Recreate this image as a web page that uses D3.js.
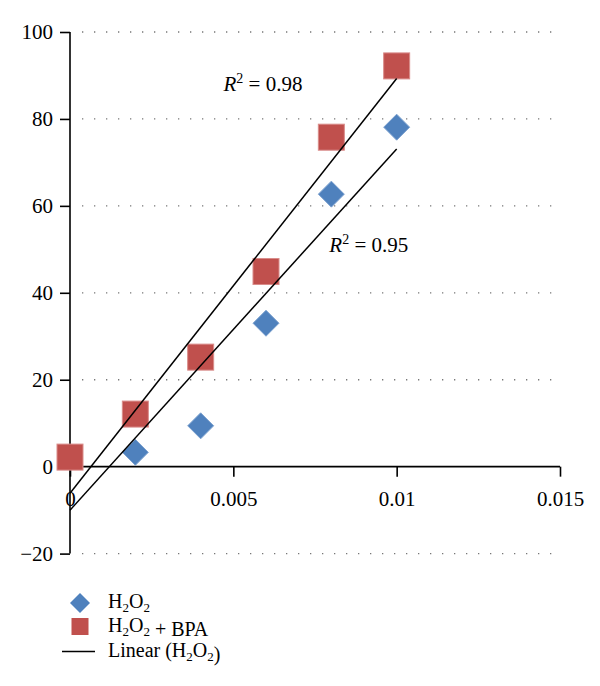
<!DOCTYPE html>
<html><head><meta charset="utf-8">
<script src="https://cdn.jsdelivr.net/npm/d3@7"></script>
<style>body{margin:0;background:#fff}svg{display:block;font-family:"Liberation Serif","DejaVu Serif",serif}</style>
</head><body><svg id="c" width="600" height="686"></svg>
<script>
const h2o2X = [0.002, 0.004, 0.006, 0.008, 0.01];
const h2o2Y = [3.3, 9.4, 33.0, 62.7, 78.1];
const bpaX = [0, 0.002, 0.004, 0.006, 0.008, 0.01];
const bpaY = [2.2, 12.1, 25.2, 44.9, 75.8, 92.2];
const fitX = [0, 0.01];
const fitBpaY = [-6.1, 89.3];
const fitH2o2Y = [-10.0, 73.1];
const xTicks = [0, 0.005, 0.01, 0.015];
const xTickLabels = ["0", "0.005", "0.01", "0.015"];
const yTicks = [-20, 0, 20, 40, 60, 80, 100];
const gridValues = [-20, 20, 40, 60, 80, 100];
const r2Labels = [{v:"0.98", x:0.00470, y:86.5}, {v:"0.95", x:0.00794, y:49.5}];

const FS = 21;
const svg = d3.select("#c");
const x = d3.scaleLinear().domain([0, 0.015]).range([70, 560]);
const y = d3.scaleLinear().domain([-20, 100]).range([553.6, 32]);

// gridlines
svg.append("g").selectAll("line").data(gridValues).join("line")
  .attr("x1", 82).attr("x2", x(0.015)).attr("y1", d => y(d)).attr("y2", d => y(d))
  .attr("stroke", "#777").attr("stroke-width", 1.3).attr("stroke-dasharray", "1.3,10.7");

// y axis
const yAxis = svg.append("g").attr("transform", `translate(${x(0)},0)`)
  .call(d3.axisLeft(y).tickValues(yTicks).tickSize(10).tickPadding(7).tickFormat(d => d < 0 ? "\u221220" : d));
// x axis
const xAxis = svg.append("g").attr("transform", `translate(0,${y(0)})`)
  .call(d3.axisBottom(x).tickValues(xTicks).tickSize(10).tickPadding(14).tickFormat((d,i) => xTickLabels[i]));
[yAxis, xAxis].forEach(g => {
  g.attr("font-family", null).attr("font-size", null);
  g.select(".domain").attr("stroke", "#000").attr("stroke-width", 1.6);
  g.selectAll(".tick line").attr("stroke", "#000").attr("stroke-width", 1.6);
  g.selectAll("text").attr("fill", "#000").style("font-size", FS + "px").style("font-family", '"Liberation Serif", serif');
});
yAxis.select(".domain").attr("d", `M0,${y(100)}V${y(-20)}`);
xAxis.select(".domain").attr("d", `M${x(0)},0H${x(0.015)}`);

// markers: squares
const sq = 26;
svg.append("g").selectAll("rect").data(bpaX.map((d,i)=>[d,bpaY[i]])).join("rect")
  .attr("x", d => x(d[0]) - sq/2).attr("y", d => y(d[1]) - sq/2)
  .attr("width", sq).attr("height", sq)
  .attr("fill", "#C0504D").attr("stroke", "#D98C8A").attr("stroke-width", 1);
// diamonds
const dh = 13;
svg.append("g").selectAll("path").data(h2o2X.map((d,i)=>[d,h2o2Y[i]])).join("path")
  .attr("d", d => { const cx = x(d[0]), cy = y(d[1]); return `M${cx},${cy-dh}L${cx+dh},${cy}L${cx},${cy+dh}L${cx-dh},${cy}Z`; })
  .attr("fill", "#4F81BD").attr("stroke", "#7FA3D0").attr("stroke-width", 1);

// fit lines
const lineGen = d3.line().x(d => x(d[0])).y(d => y(d[1]));
[fitBpaY, fitH2o2Y].forEach(ys => {
  svg.append("path").attr("d", lineGen(fitX.map((d,i)=>[d, ys[i]])))
    .attr("fill", "none").attr("stroke", "#000").attr("stroke-width", 1.5);
});

// R2 labels
r2Labels.forEach(l => {
  const t = svg.append("text").attr("x", x(l.x)).attr("y", y(l.y)).style("font-size", FS + "px").attr("fill", "#000");
  t.append("tspan").style("font-style", "italic").text("R");
  t.append("tspan").attr("dy", -8).style("font-size", "14px").text("2");
  t.append("tspan").attr("dy", 8).text(" = " + l.v);
});

// legend
const LF = 20;
const lg = svg.append("g");
function h2o2Text(t) {
  t.append("tspan").text("H");
  t.append("tspan").attr("dy", 4).style("font-size", "13px").text("2");
  t.append("tspan").attr("dy", -4).text("O");
  t.append("tspan").attr("dy", 4).style("font-size", "13px").text("2");
  t.append("tspan").attr("dy", -4).text("");
}
lg.append("path").attr("d", "M80,593L90,603L80,613L70,603Z").attr("fill", "#4F81BD");
let t1 = lg.append("text").attr("x", 108).attr("y", 608).style("font-size", LF + "px");
h2o2Text(t1);
lg.append("rect").attr("x", 71.5).attr("y", 618).attr("width", 17).attr("height", 17).attr("fill", "#C0504D");
let t2 = lg.append("text").attr("x", 108).attr("y", 632).style("font-size", LF + "px");
h2o2Text(t2); t2.append("tspan").text(" + BPA");
lg.append("line").attr("x1", 62).attr("x2", 95).attr("y1", 651.5).attr("y2", 651.5).attr("stroke", "#000").attr("stroke-width", 1.5);
let t3 = lg.append("text").attr("x", 108).attr("y", 657).style("font-size", LF + "px");
t3.append("tspan").text("Linear (");
h2o2Text(t3); t3.append("tspan").text(")");
</script></body></html>
